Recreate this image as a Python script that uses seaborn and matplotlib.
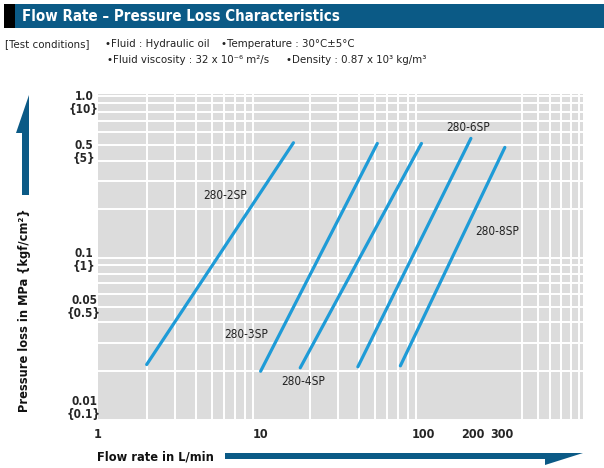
import matplotlib
matplotlib.use('Agg')
import matplotlib.pyplot as plt
import seaborn as sns
import pandas as pd
from matplotlib.patches import Polygon, Rectangle
from matplotlib.ticker import LogLocator, NullFormatter, FixedLocator

# values (flow in L/min, pressure loss in MPa)
models = ['280-2SP', '280-3SP', '280-4SP', '280-6SP', '280-8SP']
flow_start = [2.0, 10.0, 17.5, 39.5, 72.0]
flow_end = [15.9, 52.0, 97.0, 195.0, 315.0]
loss_start = [0.022, 0.020, 0.021, 0.0213, 0.0216]
loss_end = [0.515, 0.51, 0.51, 0.548, 0.482]
label_x = [6.1, 8.1, 18.3, 188.0, 282.0]
label_y = [0.245, 0.0335, 0.0172, 0.637, 0.145]

x_ticks = [1, 10, 100, 200, 300]
x_tick_labels = ['1', '10', '100', '200', '300']
y_ticks = [1.0, 0.5, 0.1, 0.05, 0.01]
y_tick_labels = ['1.0\n{10}', '0.5\n{5}', '0.1\n{1}', '0.05\n{0.5}', '0.01\n{0.1}']

W, H = 604, 468
BLUE_DARK = '#0b5a86'
LINE_BLUE = '#1e9bd7'

sns.set_theme(style='white')
plt.rcParams['font.family'] = ['DejaVu Sans']
plt.rcParams['font.stretch'] = 'condensed'

rows = []
for m, x0, x1, y0, y1 in zip(models, flow_start, flow_end, loss_start, loss_end):
    rows.append({'model': m, 'flow': x0, 'loss': y0})
    rows.append({'model': m, 'flow': x1, 'loss': y1})
df = pd.DataFrame(rows)


def px(x, y):
    return (x / W, 1 - y / H)


fig = plt.figure(figsize=(W / 100, H / 100), dpi=100)
ax = fig.add_axes([97.6 / W, 1 - 420 / H, (583 - 97.6) / W, (420 - 94) / H])
ax.set_facecolor('#dcdcdc')

sns.lineplot(data=df, x='flow', y='loss', hue='model', palette=[LINE_BLUE] * len(models),
             legend=False, linewidth=2.3, ax=ax, sort=False)

ax.set(xscale='log', yscale='log')
ax.set_xlim(1, 950)
ax.set_ylim(0.01, 1.03)
ax.xaxis.set_major_locator(FixedLocator(x_ticks))
ax.xaxis.set_minor_locator(LogLocator(base=10, subs=range(1, 10), numticks=20))
ax.xaxis.set_minor_formatter(NullFormatter())
ax.set_xticklabels(x_tick_labels, fontsize=9, fontweight='bold')
ax.tick_params(axis='x', which='both', length=0, pad=6)
ax.set_yticks([])
ax.yaxis.set_minor_locator(LogLocator(base=10, subs=range(1, 10), numticks=20))
ax.yaxis.set_minor_formatter(NullFormatter())
ax.tick_params(axis='y', which='both', length=0)
ax.grid(True, which='minor', color='white', linewidth=1.4)
ax.grid(False, which='major')
ax.set_axisbelow(True)
for s in ax.spines.values():
    s.set_visible(False)
ax.set_xlabel('')
ax.set_ylabel('')

nudge = [-7, -7, -2, 0, 12]
for v, lab, dy in zip(y_ticks, y_tick_labels, nudge):
    ax.annotate(lab, xy=(0, v), xycoords=('axes fraction', 'data'),
                xytext=(-13.6, dy), textcoords='offset pixels',
                ha='center', va='center', multialignment='center',
                fontsize=8.5, fontweight='bold', linespacing=0.95)

for m, lx, ly in zip(models, label_x, label_y):
    ax.text(lx, ly, m, ha='center', va='center', fontsize=8.5, color='#222222')

# header band
fig.add_artist(Rectangle(px(4, 28), (W - 4) / W, 24 / H, transform=fig.transFigure,
                         facecolor=BLUE_DARK, edgecolor='none'))
fig.add_artist(Rectangle(px(4, 28), 11 / W, 24 / H, transform=fig.transFigure,
                         facecolor='black', edgecolor='none'))
fig.text(*px(22, 16.5), 'Flow Rate – Pressure Loss Characteristics', color='white',
         fontsize=10.8, fontweight='bold', va='center', ha='left')

fs = 8.2
fig.text(*px(5, 44), '[Test conditions]', fontsize=fs, va='center', color='#222222')
fig.text(*px(105, 44), '•Fluid : Hydraulic oil', fontsize=fs, va='center', color='#222222')
fig.text(*px(221, 44), '•Temperature : 30°C±5°C', fontsize=fs, va='center', color='#222222')
fig.text(*px(107, 60), '•Fluid viscosity : 32 x 10⁻⁶ m²/s', fontsize=fs, va='center', color='#222222')
fig.text(*px(286, 60), '•Density : 0.87 x 10³ kg/m³', fontsize=fs, va='center', color='#222222')

# axis titles with arrows
fig.text(*px(25, 310), 'Pressure loss in MPa {kgf/cm²}', rotation=90, fontsize=9.2,
         fontweight='bold', ha='center', va='center', color='#111111')
fig.add_artist(Polygon([px(22, 195), px(29, 195), px(29, 95), px(16, 133), px(22, 133)],
                       closed=True, transform=fig.transFigure, facecolor=BLUE_DARK, edgecolor='none'))
fig.text(*px(97, 457), 'Flow rate in L/min', fontsize=9.2, fontweight='bold',
         ha='left', va='center', color='#111111')
fig.add_artist(Polygon([px(225, 453), px(583, 453), px(545, 465), px(545, 459), px(225, 459)],
                       closed=True, transform=fig.transFigure, facecolor=BLUE_DARK, edgecolor='none'))

fig.savefig('out.png', dpi=100, facecolor='white')
